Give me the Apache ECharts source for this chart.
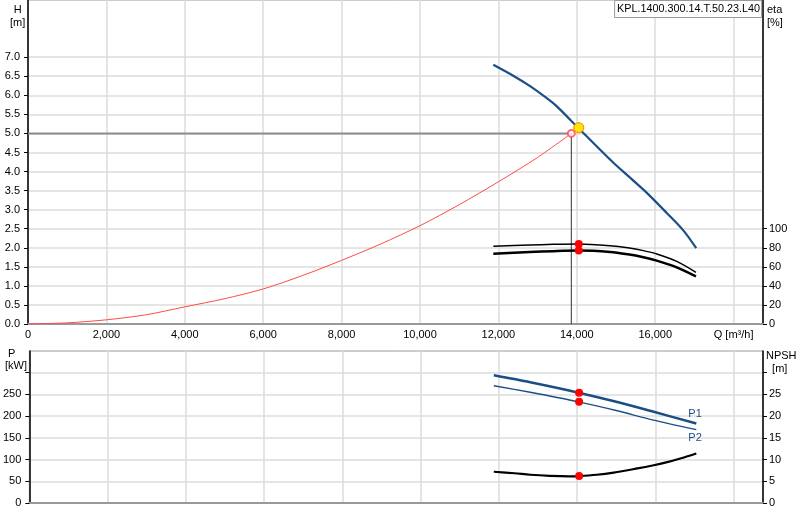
<!DOCTYPE html>
<html lang="en">
<head>
<meta charset="UTF-8">
<title>Pump curve</title>
<script src="https://cdn.jsdelivr.net/npm/echarts@6.0.0/dist/echarts.min.js"></script>
<style>
  html, body { margin: 0; padding: 0; background: #fff; }
  #main { width: 800px; height: 520px; }
</style>
</head>
<body>
<div id="main"></div>
<script type="text/javascript">
// head curve H(Q)
var headQ = [11870, 12400, 12808, 13200, 13490, 14041, 14500, 14935, 15400, 15787, 16297, 16722, 17046];
var headH = [6.80, 6.50, 6.24, 5.95, 5.71, 5.14, 4.67, 4.23, 3.80, 3.44, 2.91, 2.45, 1.99];
// system curve
var sysQ = [0, 1000, 2000, 3000, 4000, 5000, 6000, 7000, 8000, 9000, 10000, 11000, 12000, 13000, 13860];
var sysH = [0, 0.03, 0.11, 0.24, 0.45, 0.66, 0.92, 1.27, 1.67, 2.10, 2.58, 3.13, 3.73, 4.37, 5.0];
// efficiency curves
var etaQ = [11870, 12800, 13400, 14040, 14850, 15300, 15700, 16040, 16550, 17040];
var eta1 = [81.5, 82.9, 83.6, 84.0, 82.2, 80.0, 77.0, 73.5, 65.7, 54.2];
var eta2 = [73.8, 75.5, 76.4, 77.0, 75.6, 73.1, 70.0, 66.5, 59.5, 50.0];
// power curves
var powQ = [11870, 12800, 14040, 15000, 15956, 17046];
var powP1 = [294, 278, 254, 233, 210, 183];
var powP2 = [270, 255, 233, 213, 191, 169];
// NPSH curve
var npshQ = [11870, 12400, 12800, 13300, 13800, 14040, 14500, 14935, 15500, 15956, 16300, 16637, 17046];
var npshV = [7.2, 6.85, 6.5, 6.25, 6.15, 6.2, 6.5, 7.0, 7.9, 8.7, 9.4, 10.25, 11.4];
// duty point
var dutyQ = 14050, dutyH = 5.15;
var sysEndQ = 13860, sysEndH = 5.0;
var dutyEta = [84.0, 77.0];
var dutyP = [254, 233];
var dutyNpsh = 6.2;
// tick labels
var qLabels = [0, 2000, 4000, 6000, 8000, 10000, 12000, 14000, 16000, 18000];
var hTicks = [0, 0.5, 1, 1.5, 2, 2.5, 3, 3.5, 4, 4.5, 5, 5.5, 6, 6.5, 7];
var etaTicks = [0, 20, 40, 60, 80, 100];
var pTicks = [0, 50, 100, 150, 200, 250, 300];
var pLabels = [0, 50, 100, 150, 200, 250];
var npshTicks = [0, 5, 10, 15, 20, 25, 30];
var npshLabels = [0, 5, 10, 15, 20, 25];

function zip(a, b) {
    var out = [];
    for (var i = 0; i < a.length; i++) out.push([a[i], b[i]]);
    return out;
}

var font = 'Liberation Sans';
var gridColor = '#dcdcdc';
var blue = '#1c4e86';
var sm = 0.3;

var myChart = echarts.init(document.getElementById('main'));

myChart.setOption({
    animation: false,
    textStyle: { fontFamily: font },
    title: {
        text: 'KPL.1400.300.14.T.50.23.L40',
        right: 38, top: 0,
        padding: [4, 2, 3, 3],
        backgroundColor: '#fff',
        borderColor: '#999', borderWidth: 1,
        textStyle: { fontSize: 10.8, fontWeight: 'normal', color: '#000', fontFamily: font }
    },
    graphic: [
        { type: 'text', left: 10, top: 3, style: { text: 'H\n[m]', font: '11px ' + font, fill: '#000', textAlign: 'center', lineHeight: 13 } },
        { type: 'text', left: 767, top: 3, style: { text: 'eta\n[%]', font: '11px ' + font, fill: '#000', lineHeight: 13 } },
        { type: 'text', left: 5, top: 348, style: { text: ' P\n[kW]', font: '11px ' + font, fill: '#000', lineHeight: 12 } },
        { type: 'text', left: 766, top: 349, style: { text: 'NPSH\n  [m]', font: '11px ' + font, fill: '#000', lineHeight: 13 } }
    ],
    grid: [
        { left: 28, right: 37, top: 0, height: 324, show: true, borderColor: '#999', borderWidth: 1 },
        { left: 28, right: 37, top: 351, height: 152, show: true, borderColor: '#999', borderWidth: 1 }
    ],
    xAxis: [
        {
            gridIndex: 0, type: 'value', min: 0, max: 18750, interval: 2000,
            axisLine: { lineStyle: { color: '#999', width: 2 } },
            axisTick: { show: false },
            axisLabel: {
                customValues: qLabels, color: '#000', fontSize: 11, margin: 5,
                formatter: function (v) { return v === 18000 ? 'Q [m³/h]' : v.toLocaleString('en-US'); }
            },
            splitLine: { lineStyle: { color: gridColor, width: 1.5 } }
        },
        {
            gridIndex: 1, type: 'value', min: 0, max: 18750, interval: 2000,
            axisLine: { lineStyle: { color: '#999', width: 2 } },
            axisTick: { show: false },
            axisLabel: { show: false },
            splitLine: { lineStyle: { color: gridColor, width: 1.5 } }
        }
    ],
    yAxis: [
        {
            gridIndex: 0, type: 'value', min: 0, max: 8.5, interval: 0.5, position: 'left',
            axisLine: { show: true, lineStyle: { color: '#000', width: 1.5 } },
            axisTick: { show: true, customValues: hTicks, length: 4, lineStyle: { color: '#000' } },
            axisLabel: { customValues: hTicks, color: '#000', fontSize: 11, margin: 8,
                formatter: function (v) { return v.toFixed(1); } },
            splitLine: { lineStyle: { color: gridColor, width: 1.5 } }
        },
        {
            gridIndex: 0, type: 'value', min: 0, max: 340, interval: 20, position: 'right',
            axisLine: { show: true, lineStyle: { color: '#000', width: 1.5 } },
            axisTick: { show: true, customValues: etaTicks, length: 4, lineStyle: { color: '#000' } },
            axisLabel: { customValues: etaTicks, color: '#000', fontSize: 11, margin: 6 },
            splitLine: { show: false }
        },
        {
            gridIndex: 1, type: 'value', min: 0, max: 350, interval: 50, position: 'left',
            axisLine: { show: true, lineStyle: { color: '#000', width: 1.5 } },
            axisTick: { show: true, customValues: pTicks, length: 4, lineStyle: { color: '#000' } },
            axisLabel: { customValues: pLabels, color: '#000', fontSize: 11, margin: 8 },
            splitLine: { lineStyle: { color: gridColor, width: 1.5 } }
        },
        {
            gridIndex: 1, type: 'value', min: 0, max: 35, interval: 5, position: 'right',
            axisLine: { show: true, lineStyle: { color: '#000', width: 1.5 } },
            axisTick: { show: true, customValues: npshTicks, length: 4, lineStyle: { color: '#000' } },
            axisLabel: { customValues: npshLabels, color: '#000', fontSize: 11, margin: 6 },
            splitLine: { show: false }
        }
    ],
    series: [
        // operating point guide lines
        { type: 'line', xAxisIndex: 0, yAxisIndex: 0, symbol: 'none',
          data: [[0, sysEndH], [sysEndQ, sysEndH]], lineStyle: { color: '#8c8c8c', width: 2 } },
        { type: 'line', xAxisIndex: 0, yAxisIndex: 0, symbol: 'none',
          data: [[sysEndQ, sysEndH], [sysEndQ, 0]], lineStyle: { color: '#333', width: 1 } },
        // system curve
        { type: 'line', xAxisIndex: 0, yAxisIndex: 0, symbol: 'none', smooth: sm,
          data: zip(sysQ, sysH), lineStyle: { color: '#ff4a4a', width: 1 } },
        // head curve
        { type: 'line', xAxisIndex: 0, yAxisIndex: 0, symbol: 'none', smooth: sm,
          data: zip(headQ, headH), lineStyle: { color: blue, width: 2.2 } },
        // efficiency curves
        { type: 'line', xAxisIndex: 0, yAxisIndex: 1, symbol: 'none', smooth: sm,
          data: zip(etaQ, eta1), lineStyle: { color: '#000', width: 1.5 } },
        { type: 'line', xAxisIndex: 0, yAxisIndex: 1, symbol: 'none', smooth: sm,
          data: zip(etaQ, eta2), lineStyle: { color: '#000', width: 2.5 } },
        // markers top
        { type: 'scatter', xAxisIndex: 0, yAxisIndex: 0, symbol: 'emptyCircle', symbolSize: 7, z: 10,
          data: [[sysEndQ, sysEndH]], itemStyle: { color: '#ff4a4a', borderWidth: 1 } },
        { type: 'scatter', xAxisIndex: 0, yAxisIndex: 0, symbolSize: 10, z: 10,
          data: [[dutyQ, dutyH]], itemStyle: { color: '#ffe600', borderColor: '#ff7a00', borderWidth: 1, opacity: 1 } },
        { type: 'scatter', xAxisIndex: 0, yAxisIndex: 1, symbolSize: 8, z: 10,
          data: [[dutyQ, dutyEta[0]], [dutyQ, dutyEta[1]]], itemStyle: { color: '#ff0000', opacity: 1 } },
        // power curves
        { type: 'line', xAxisIndex: 1, yAxisIndex: 2, symbol: 'none', smooth: sm,
          data: zip(powQ, powP1), lineStyle: { color: blue, width: 2.5 },
          endLabel: { show: true, formatter: 'P1', color: blue, fontSize: 11, offset: [-16, -10] } },
        { type: 'line', xAxisIndex: 1, yAxisIndex: 2, symbol: 'none', smooth: sm,
          data: zip(powQ, powP2), lineStyle: { color: blue, width: 1.3 },
          endLabel: { show: true, formatter: 'P2', color: blue, fontSize: 11, offset: [-16, 8] } },
        // NPSH curve
        { type: 'line', xAxisIndex: 1, yAxisIndex: 3, symbol: 'none', smooth: sm,
          data: zip(npshQ, npshV), lineStyle: { color: '#000', width: 2.2 } },
        // markers bottom
        { type: 'scatter', xAxisIndex: 1, yAxisIndex: 2, symbolSize: 8, z: 10,
          data: [[dutyQ, dutyP[0]], [dutyQ, dutyP[1]]], itemStyle: { color: '#ff0000', opacity: 1 } },
        { type: 'scatter', xAxisIndex: 1, yAxisIndex: 3, symbolSize: 8, z: 10,
          data: [[dutyQ, dutyNpsh]], itemStyle: { color: '#ff0000', opacity: 1 } }
    ]
});
</script>
</body>
</html>
